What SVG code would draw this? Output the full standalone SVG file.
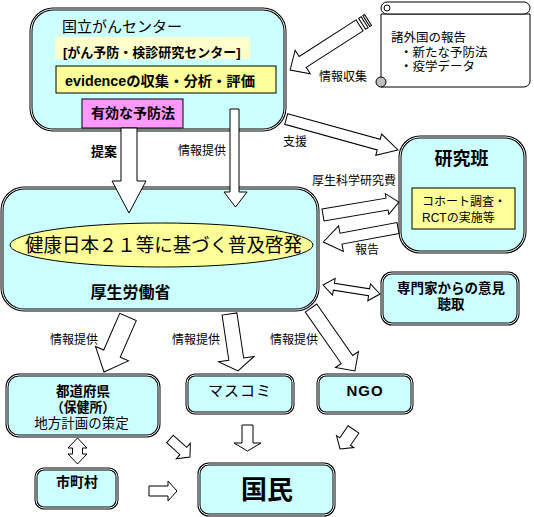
<svg xmlns="http://www.w3.org/2000/svg" width="534" height="517" viewBox="0 0 534 517">
<style>
.box{fill:#ccffff;stroke:#000;stroke-width:3}
.bi{fill:none;stroke:#fff;stroke-width:1}
.arr{fill:#fff;stroke:#000;stroke-width:1}
.t{font-family:"Liberation Sans","Noto Sans CJK JP",sans-serif;fill:#000}
.b{font-weight:bold}
.s12{font-size:12px}
</style>
<rect width="534" height="517" fill="#fff"/>

<g id="ncc">
<rect class="box" x="31" y="9" width="254" height="121" rx="22"/>
<rect class="bi" x="31" y="9" width="254" height="121" rx="22"/>
<text class="t" x="62" y="32" font-size="15">国立がんセンター</text>
<rect x="55" y="37" width="195" height="22" fill="#ffffcc"/>
<text class="t b" x="63" y="57" font-size="13">[がん予防・検診研究センター]</text>
<rect x="56" y="66" width="220" height="27" fill="#ffff99" stroke="#000" stroke-width="1"/>
<text class="t b" x="65" y="86" font-size="14" textLength="190" lengthAdjust="spacingAndGlyphs">evidenceの収集・分析・評価</text>
<rect x="82" y="99" width="101" height="29" fill="#ff99ff" stroke="#000" stroke-width="1"/>
<text class="t b" x="91" y="118" font-size="14">有効な予防法</text>
</g>

<g id="scroll">
<path d="M381,14 H530 V81 A6,6 0 0 1 524,87 H381 Z" fill="#fff" stroke="#000"/>
<path d="M387,2 H524 A6,6 0 0 1 524,14 H387 A6,6 0 0 1 387,2 Z" fill="#fff" stroke="#000"/>
<circle cx="387" cy="8" r="3" fill="#fff" stroke="#000"/>
<circle cx="381" cy="82" r="5" fill="#c0c0c0" stroke="#000"/>
<text class="t" x="391" y="42" font-size="12.5">諸外国の報告</text>
<text class="t" x="400" y="56.5" font-size="12.5">・新たな予防法</text>
<text class="t" x="400" y="71" font-size="12.5">・疫学データ</text>
</g>

<g id="research">
<rect class="box" x="400" y="137" width="125" height="115" rx="20"/>
<rect class="bi" x="400" y="137" width="125" height="115" rx="20"/>
<text class="t b" x="461.5" y="165" font-size="18" text-anchor="middle">研究班</text>
<rect x="412" y="188" width="103" height="41" fill="#ffff99" stroke="#000" stroke-width="1"/>
<text class="t s12" x="422" y="206">コホート調査・</text>
<text class="t s12" x="422" y="222">RCTの実施等</text>
</g>

<g id="mhlw">
<rect class="box" x="2" y="188" width="316" height="122" rx="22"/>
<rect class="bi" x="2" y="188" width="316" height="122" rx="22"/>
<ellipse cx="161.5" cy="245" rx="151.5" ry="22" fill="#ffff99" stroke="#000" stroke-width="1"/>
<text class="t" x="163.5" y="252" font-size="19" text-anchor="middle" textLength="277" lengthAdjust="spacingAndGlyphs">健康日本２１等に基づく普及啓発</text>
<text class="t b" x="130.5" y="298" font-size="16" text-anchor="middle">厚生労働省</text>
</g>

<g id="expert">
<rect class="box" x="382" y="273" width="136" height="51" rx="10"/>
<rect class="bi" x="382" y="273" width="136" height="51" rx="10"/>
<text class="t b" x="451" y="293" font-size="13.5" text-anchor="middle">専門家からの意見</text>
<text class="t b" x="451" y="309" font-size="13.5" text-anchor="middle">聴取</text>
</g>

<g id="pref">
<rect class="box" x="7" y="375" width="152" height="61" rx="12"/>
<rect class="bi" x="7" y="375" width="152" height="61" rx="12"/>
<text class="t b" x="83" y="396" font-size="13.5" text-anchor="middle">都道府県</text>
<text class="t b" x="83" y="411.5" font-size="13.5" text-anchor="middle" textLength="64" lengthAdjust="spacingAndGlyphs">（保健所）</text>
<text class="t" x="81.5" y="427.5" font-size="13.5" text-anchor="middle">地方計画の策定</text>
</g>

<g id="media">
<rect class="box" x="187" y="375" width="106" height="38" rx="8"/>
<rect class="bi" x="187" y="375" width="106" height="38" rx="8"/>
<text class="t" x="240" y="396" font-size="15" text-anchor="middle" letter-spacing="1">マスコミ</text>
</g>

<g id="ngo">
<rect class="box" x="318" y="375" width="94" height="38" rx="8"/>
<rect class="bi" x="318" y="375" width="94" height="38" rx="8"/>
<text class="t b" x="365" y="396" font-size="15" text-anchor="middle" letter-spacing="1">NGO</text>
</g>

<g id="city">
<rect class="box" x="36" y="469" width="81" height="39" rx="8"/>
<rect class="bi" x="36" y="469" width="81" height="39" rx="8"/>
<text class="t b" x="77" y="487" font-size="14" text-anchor="middle">市町村</text>
</g>

<g id="people">
<rect class="box" x="199" y="464" width="135" height="51" rx="10"/>
<rect class="bi" x="199" y="464" width="135" height="51" rx="10"/>
<text class="t b" x="267" y="499" font-size="26" text-anchor="middle">国民</text>
</g>

<g id="connectors">
<polygon class="arr" points="121,128 137,128 137,181 146,181 129,213 112,181 121,181"/>
<polygon class="arr" points="230,109 239,109 239,192 247,192 235.5,207 224,192 230,192"/>
<g transform="translate(368,20) rotate(147.3)">
<rect class="arr" x="0" y="-6.5" width="2" height="13"/>
<rect class="arr" x="4" y="-6.5" width="3" height="13"/>
<polygon class="arr" points="10,-6.5 77.6,-6.5 77.6,-14 92.6,0 77.6,14 77.6,6.5 10,6.5"/>
</g>
<polygon class="arr" transform="translate(286.2,119) rotate(15.5)" points="0,-5.5 96,-5.5 96,-11 116,0 96,11 96,5.5 0,5.5"/>
<polygon class="arr" transform="translate(323,215) rotate(-9.7)" points="0,-6 65,-6 65,-10.5 77,0 65,10.5 65,6 0,6"/>
<polygon class="arr" transform="translate(398,228) rotate(169.4)" points="0,-5.5 58,-5.5 58,-13 76,0 58,13 58,5.5 0,5.5"/>
<polygon class="arr" transform="translate(323,285) rotate(9)" points="0,0 11,-8.5 11,-3.5 46.7,-3.5 46.7,-8.5 57.7,0 46.7,8.5 46.7,3.5 11,3.5 11,8.5"/>
<polygon class="arr" transform="translate(128,317) rotate(113.6)" points="0,-9 40,-9 40,-18 60,0 40,18 40,9 0,9"/>
<polygon class="arr" transform="translate(229.5,314) rotate(81.5)" points="0,-7.5 45.6,-7.5 45.6,-18 57.6,0 45.6,18 45.6,7.5 0,7.5"/>
<polygon class="arr" transform="translate(311,308) rotate(55.1)" points="0,-7 62.8,-7 62.8,-14 76.8,0 62.8,14 62.8,7 0,7"/>
<polygon class="arr" transform="translate(170,439) rotate(42)" points="0,-5 17.9,-5 17.9,-10.5 26.9,0 17.9,10.5 17.9,5 0,5"/>
<polygon class="arr" transform="translate(353.5,429.5) rotate(124.7)" points="0,-6.5 14.7,-6.5 14.7,-10.5 23.7,0 14.7,10.5 14.7,6.5 0,6.5"/>
<polygon class="arr" points="149,486 168,486 168,481 177,491 168,501 168,496 149,496"/>
<polygon class="arr" points="77.5,438 87,448 82.5,448 82.5,454 87,454 77.5,464 68,454 72.5,454 72.5,448 68,448"/>
<polygon class="arr" points="242,425 253,425 253,443 261,443 247.5,451 234,443 242,443"/>
<text class="t b" x="91" y="156" font-size="13">提案</text>
<text class="t s12" x="178" y="155">情報提供</text>
<text class="t s12" x="319" y="81">情報収集</text>
<text class="t s12" x="283" y="146">支援</text>
<text class="t s12" x="312" y="185">厚生科学研究費</text>
<text class="t s12" x="355" y="254">報告</text>
<text class="t s12" x="50" y="344">情報提供</text>
<text class="t s12" x="172" y="344">情報提供</text>
<text class="t s12" x="270" y="344">情報提供</text>
</g>
</svg>
